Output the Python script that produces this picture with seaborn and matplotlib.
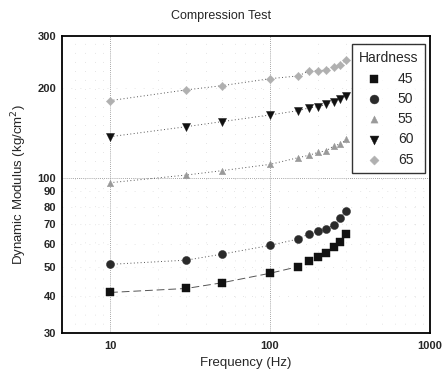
import pandas as pd
import matplotlib
matplotlib.use("Agg")
import matplotlib.pyplot as plt
import matplotlib.ticker as mticker
import seaborn as sns

# Values
frequency = [10, 30, 50, 100, 150, 175, 200, 225, 250, 275, 300]
hardness = ["45", "50", "55", "60", "65"]
mod_45 = [41.1, 42.4, 44.3, 47.7, 50.2, 52.3, 54.1, 55.9, 58.4, 60.9, 64.6]
mod_50 = [51.1, 52.8, 55.3, 59.2, 62.2, 64.8, 66.3, 67.2, 69.5, 73.4, 77.4]
mod_55 = [96.2, 102.1, 105.6, 110.9, 116.8, 119.0, 121.7, 123.3, 127.9, 129.9, 134.6]
mod_60 = [137.4, 148.5, 154.4, 162.6, 168.1, 171.7, 173.4, 176.6, 180.3, 183.7, 188.4]
mod_65 = [181.7, 197.5, 204.0, 215.4, 220.0, 228.7, 229.0, 230.5, 236.5, 240.2, 249.0]

series = [mod_45, mod_50, mod_55, mod_60, mod_65]
frames = []
for h, vals in zip(hardness, series):
    frames.append(pd.DataFrame({"Frequency": frequency, "Modulus": vals, "Hardness": h}))
data = pd.concat(frames, ignore_index=True)

sns.set_theme(style="white")
plt.rcParams['font.family'] = ['Liberation Sans', 'DejaVu Sans']

palette = {"45": "#111111", "50": "#2a2a2a", "55": "#9a9a9a", "60": "#111111", "65": "#b0b0b0"}
markers = {"45": "s", "50": "o", "55": "^", "60": "v", "65": "D"}
sizes = {"45": 30, "50": 34, "55": 22, "60": 34, "65": 18}
line_styles = {"45": (0, (8, 4)), "50": (0, (1, 2.5)), "55": (0, (1, 2.5)),
               "60": (0, (1, 2.5)), "65": (0, (1, 2.5))}

fig = plt.figure(figsize=(4.42, 3.82), dpi=100)
ax = fig.add_axes([0.140, 0.128, 0.833, 0.778])

# trend lines
for h in hardness:
    sub = data[data["Hardness"] == h]
    sns.lineplot(data=sub, x="Frequency", y="Modulus", ax=ax, color="#555555",
                 linewidth=0.7, legend=False, linestyle=line_styles[h])

for h in hardness:
    sub = data[data["Hardness"] == h]
    sns.scatterplot(data=sub, x="Frequency", y="Modulus", ax=ax, marker=markers[h],
                    color=palette[h], s=sizes[h], edgecolor=palette[h], linewidth=0.3,
                    label=h, zorder=5)

ax.set_xscale("log")
ax.set_yscale("log")
ax.set_xlim(5, 1000)
ax.set_ylim(30, 300)

ax.xaxis.set_major_locator(mticker.FixedLocator([10, 100, 1000]))
ax.xaxis.set_major_formatter(mticker.FixedFormatter(["10", "100", "1000"]))
ax.xaxis.set_minor_locator(mticker.LogLocator(base=10, subs=range(2, 10)))
ax.xaxis.set_minor_formatter(mticker.NullFormatter())
yt = [30, 40, 50, 60, 70, 80, 90, 100, 200, 300]
ax.yaxis.set_major_locator(mticker.FixedLocator(yt))
ax.yaxis.set_major_formatter(mticker.FixedFormatter([str(v) for v in yt]))
ax.yaxis.set_minor_locator(mticker.NullLocator())

ax.tick_params(axis="x", which="major", direction="in", length=5, width=1, labelsize=8, pad=6)
ax.tick_params(axis="x", which="minor", direction="in", length=4, width=1)
ax.tick_params(axis="y", which="major", length=0, labelsize=8, pad=4)
for lab in ax.get_xticklabels() + ax.get_yticklabels():
    lab.set_fontweight("bold")

# sparse dotted grid
for x in [10, 100]:
    ax.axvline(x, color="#888888", linewidth=0.6, linestyle=(0, (1, 1.5)), zorder=0)
ax.axhline(100, color="#888888", linewidth=0.6, linestyle=(0, (1, 1.5)), zorder=0)
ax.grid(True, which="minor", axis="x", color="#cccccc", linewidth=0.5, linestyle=(0, (1, 12)))
ax.grid(True, which="major", axis="y", color="#cccccc", linewidth=0.5, linestyle=(0, (1, 12)))

for spine in ax.spines.values():
    spine.set_color("black")
    spine.set_linewidth(1.3)

ax.set_xlabel("Frequency (Hz)", fontsize=9.5, labelpad=4)
ax.set_ylabel("Dynamic Modulus (kg/cm$^{2}$)", fontsize=9.5, labelpad=6)
fig.suptitle("Compression Test", fontsize=9, y=0.975)

leg = ax.legend(title="Hardness", loc="upper right", bbox_to_anchor=(1.005, 0.995),
                fontsize=10, title_fontsize=10, frameon=True, fancybox=False,
                edgecolor="black", handletextpad=0.9, borderpad=0.5,
                labelspacing=0.45, markerscale=1.1, handlelength=1.6)
leg.get_frame().set_linewidth(1.0)

fig.savefig("out.png", dpi=100)
